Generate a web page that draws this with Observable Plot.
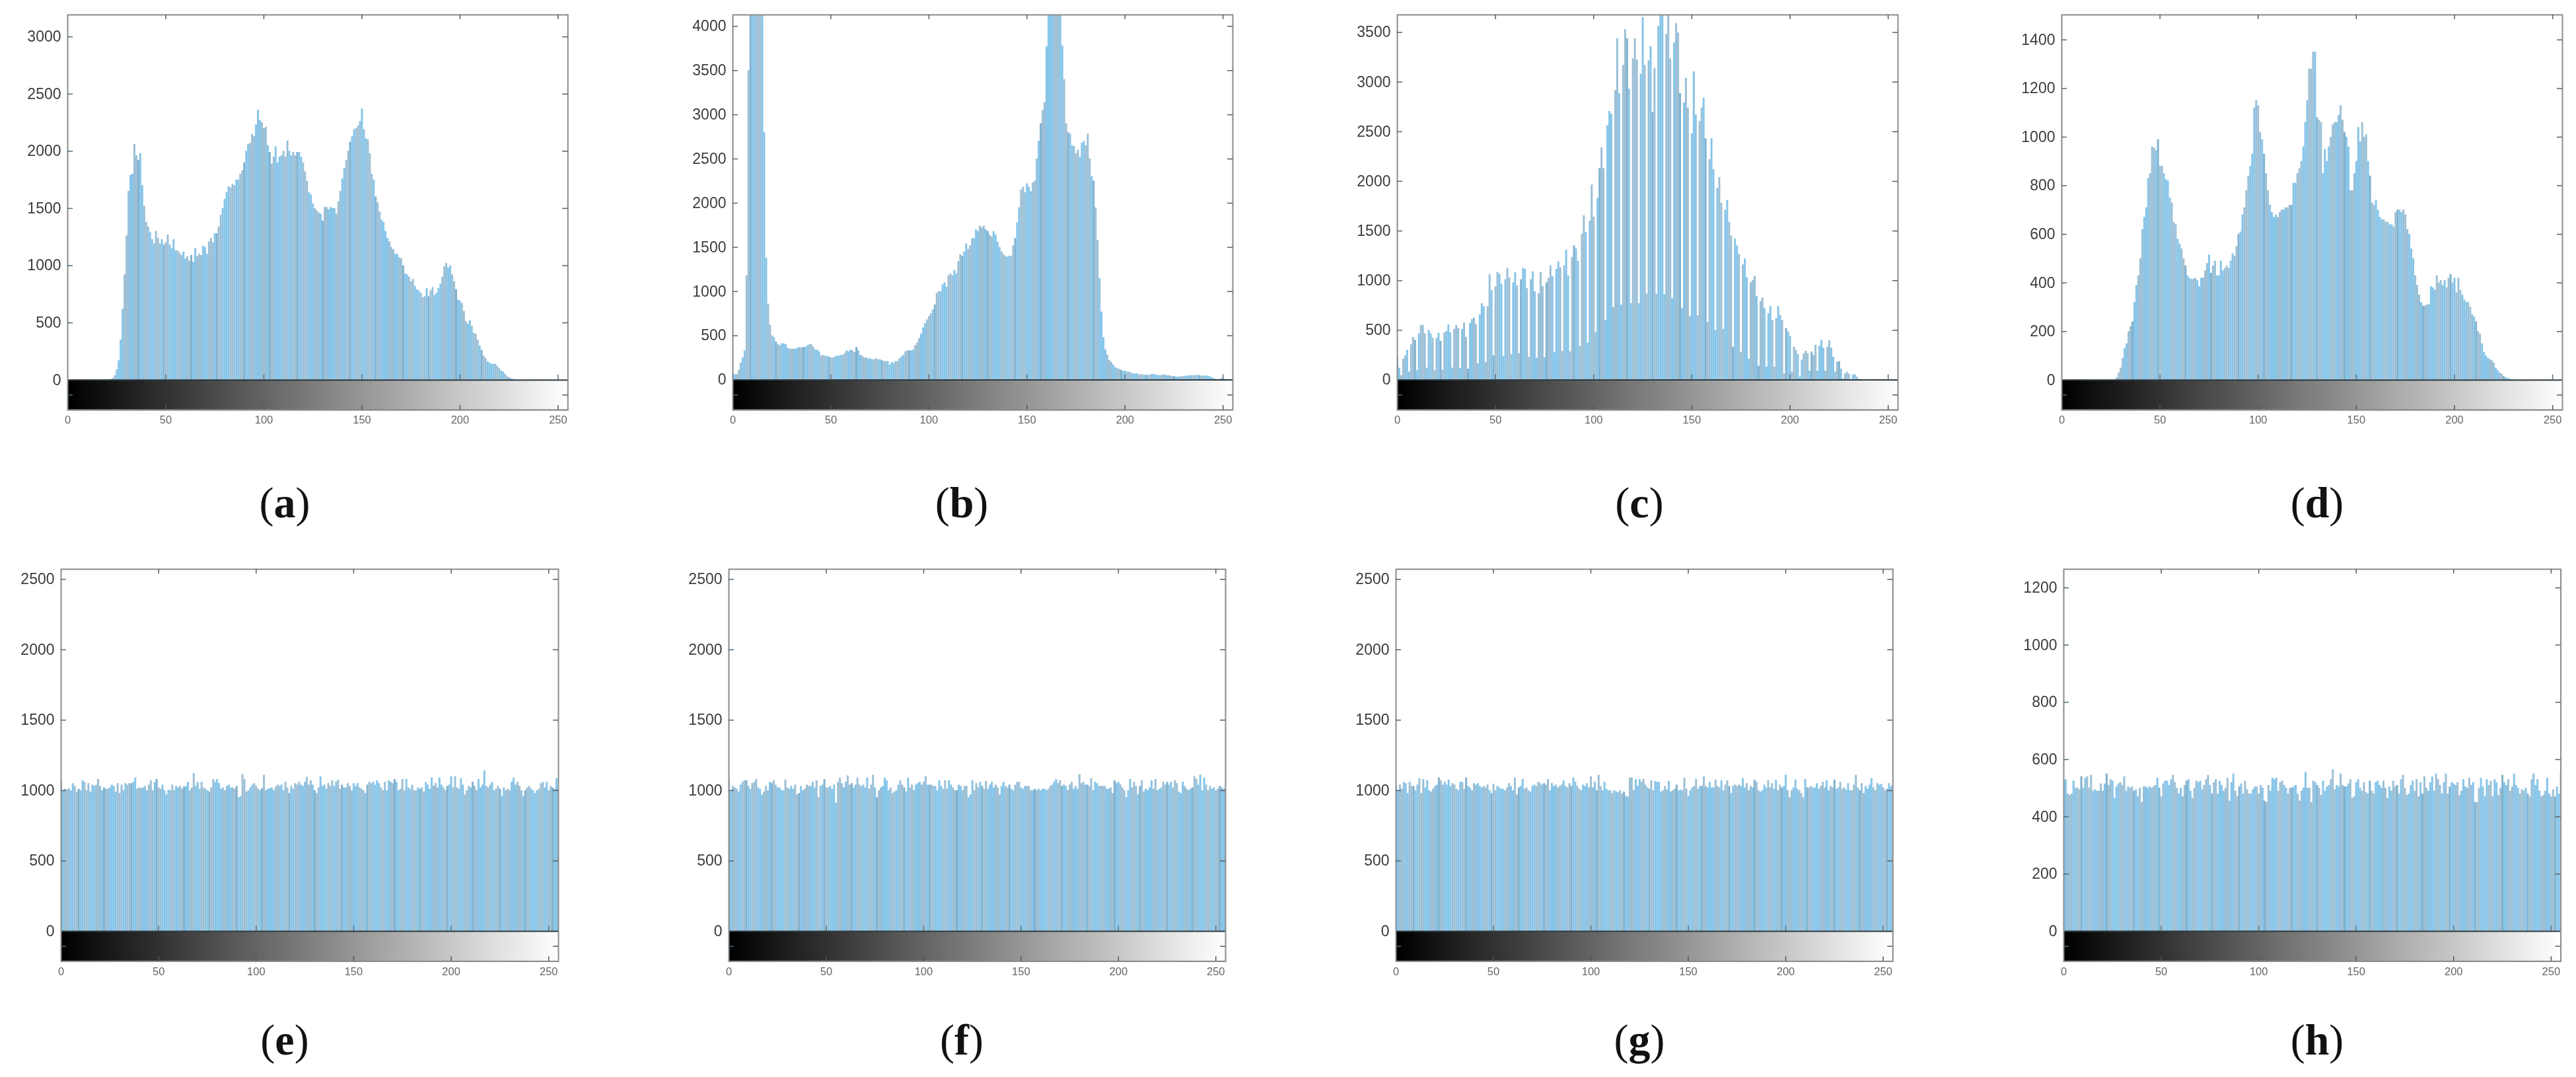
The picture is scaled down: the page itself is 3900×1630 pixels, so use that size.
<!DOCTYPE html>
<html>
<head>
<meta charset="utf-8">
<script src="https://cdn.jsdelivr.net/npm/d3@7"></script>
<script src="https://cdn.jsdelivr.net/npm/@observablehq/plot@0.6"></script>
<style>
html,body{margin:0;padding:0;background:#fff;width:3900px;height:1630px;overflow:hidden;position:relative}
svg{filter:blur(0.65px)}
.lab{position:absolute;transform:translateX(-50%);font-family:"Liberation Serif",serif;font-size:66px;line-height:66px;color:#111;white-space:nowrap;filter:blur(0.4px)}
</style>
</head>
<body>
<script>
const grayLevels = d3.range(256);
const xTicks = [0,50,100,150,200,250];

const histA = [
0,0,0,0,0,0,0,0,0,0,0,0,0,0,0,0,
0,0,0,0,0,0,5,15,40,90,170,350,620,920,1260,1650,
1790,1800,2060,1960,1920,1980,1700,1520,1380,1340,1290,1230,1190,1300,1240,1190,
1230,1180,1200,1270,1180,1150,1230,1130,1130,1110,1090,1120,1060,1080,1040,1090,
1030,1150,1080,1100,1090,1170,1160,1100,1210,1240,1200,1280,1280,1340,1440,1500,
1580,1640,1690,1680,1710,1700,1750,1750,1800,1830,1900,2000,2060,2070,2150,2130,
2230,2360,2270,2250,2200,2210,2050,1990,1890,1950,2040,1900,1950,1960,2000,1950,
2090,2000,1960,1990,1960,1990,1990,1950,1900,1820,1740,1640,1620,1540,1500,1480,
1460,1450,1390,1510,1510,1490,1510,1500,1500,1450,1560,1650,1760,1850,1920,2000,
2080,2130,2190,2200,2220,2260,2370,2190,2110,2100,1980,1800,1750,1600,1550,1470,
1400,1380,1300,1240,1210,1160,1140,1100,1100,1070,1060,1000,930,920,900,860,
880,820,790,780,760,720,730,800,730,780,810,740,760,800,840,900,
990,1020,980,1000,920,860,790,700,690,670,600,510,490,520,470,410,
400,350,300,260,210,190,160,150,140,140,140,120,100,80,70,50,
30,20,12,8,5,3,2,1,0,0,0,0,0,0,0,0,
0,0,0,0,0,0,0,0,0,0,0,0,0,0,0,0];

const histB = [
70,60,60,110,190,250,330,1180,3500,5000,7500,9200,9800,8000,5600,4200,
2800,1380,860,620,500,480,430,400,390,410,410,400,360,350,350,350,
350,360,370,360,370,370,390,400,400,370,340,340,320,270,280,270,
270,260,250,250,260,270,270,280,280,300,330,320,340,330,310,370,
330,280,270,250,250,240,240,230,230,240,230,230,220,210,210,210,
170,200,190,210,210,240,260,280,320,330,330,330,340,390,420,470,
520,590,640,680,720,750,790,850,980,1000,1000,1080,1100,1050,1180,1200,
1180,1240,1200,1340,1420,1400,1450,1540,1480,1520,1600,1600,1700,1680,1740,1720,
1740,1700,1680,1640,1620,1680,1640,1560,1500,1450,1420,1400,1390,1400,1400,1520,
1600,1780,1950,2150,2180,2120,2220,2180,2130,2230,2250,2500,2700,2900,3050,3140,
3770,4600,5200,4800,5000,5400,5000,4300,3780,3400,2900,2800,2780,2650,2640,2560,
2600,2520,2680,2700,2650,2780,2500,2300,2250,1950,1580,1150,770,480,340,280,
220,200,170,140,130,120,110,100,100,90,90,80,70,70,70,60,
60,60,55,55,50,60,65,60,55,50,50,55,60,50,50,45,
40,40,35,35,35,40,40,45,45,50,50,50,50,55,50,45,
45,45,45,40,30,20,10,5,5,15,15,8,5,3,2,1];

const histC = [
245,120,44,210,245,300,80,355,430,400,95,465,550,550,465,120,
500,465,420,95,420,470,390,100,475,490,555,475,120,510,550,520,
118,510,575,430,110,570,610,625,560,165,655,770,740,175,740,1060,
900,245,940,1085,1065,965,240,1010,1125,1030,255,980,1080,950,265,1010,
1125,1115,920,228,1010,1090,890,220,870,1085,940,226,980,1025,1150,1040,
277,1115,1190,1130,288,1150,1310,1050,284,1235,1350,1320,1195,337,1470,1655,
1485,372,1600,1965,1640,477,1830,2130,2340,2130,600,2560,2706,2680,730,2915,
3437,2885,754,3170,3530,3437,2930,770,3235,3437,3225,770,3080,3650,3170,865,
3215,3360,2695,3140,865,3560,3800,3720,860,3480,3760,3235,820,3395,3590,3495,
2885,720,2790,3040,2740,640,2480,3105,2670,650,2606,2740,2840,2430,580,2220,
2430,2120,500,1930,2040,1780,510,1710,1810,1590,1450,330,1420,1350,1265,280,
1160,1220,1030,210,980,1000,1045,840,140,790,825,720,130,670,740,600,
130,620,740,650,600,60,520,485,440,80,330,300,260,30,200,265,
290,265,90,280,250,350,90,340,400,320,90,330,395,320,230,80,
180,185,110,10,60,78,60,5,50,55,30,8,5,4,3,2,
2,1,1,1,0,0,0,0,0,0,0,0,0,0,0,0];

const histD = [
0,0,0,0,0,0,0,0,0,0,0,0,0,0,0,0,
0,0,0,0,0,0,0,0,0,0,0,2,10,30,50,90,
130,150,200,220,240,320,390,430,500,620,670,710,830,850,960,955,
945,990,880,880,850,825,820,750,730,650,640,580,560,540,500,470,
430,420,415,415,420,410,385,420,420,450,480,515,440,470,490,430,
430,490,450,460,470,460,490,520,510,550,600,610,680,710,780,840,
880,930,1120,1150,1130,1020,990,930,850,780,720,690,670,680,670,690,
700,700,710,710,720,720,810,810,850,870,900,960,1060,1150,1280,1280,
1350,1350,1080,1070,1060,850,950,900,960,1000,1050,1060,1060,1090,1130,1070,
1020,1000,960,780,780,850,900,1040,980,1060,1000,1010,900,840,730,720,
740,700,670,660,660,650,650,640,640,630,690,700,700,690,700,680,
620,600,540,500,430,390,350,320,305,305,310,310,385,380,370,430,
400,410,390,410,380,420,435,400,420,360,420,370,350,330,320,320,
300,270,260,240,200,190,150,115,100,90,85,80,70,50,40,30,
25,15,10,8,5,3,2,0,0,0,0,0,0,0,0,0,
0,0,0,0,0,0,0,0,0,0,0,0,0,0,0,0];

const histE = [
1060,1000,1010,1005,1015,1000,1050,1030,990,1010,1000,1070,1060,1000,1050,990,
1040,1030,1040,1080,1030,1000,1020,1010,1010,1020,1040,1030,990,1050,980,1040,
1000,1050,1040,1050,1050,1060,1090,1010,1020,1015,1020,1030,1000,1040,1070,1000,
1060,1080,1020,1010,1040,1000,970,1005,1000,1040,1000,1030,1020,1030,1010,1025,
1030,1060,1000,1020,1120,1030,1060,1010,1060,1020,1010,1000,990,1020,1080,1060,
1080,1050,1010,1020,1000,1030,1040,1020,1020,1010,1030,950,960,1115,1080,990,
1000,1020,1040,1050,1030,1010,1000,1015,1110,1000,1010,1015,1020,1000,1025,1040,
1030,1040,1000,1060,1020,980,1030,1010,1050,1040,1060,1040,1030,1060,1095,1040,
1070,1040,1000,980,1020,1100,1030,1040,1010,1050,1030,1070,1030,1060,1075,1010,
1040,1020,1020,1050,1030,1000,1050,1030,1050,1020,1010,1000,980,1040,1060,1050,
1060,1040,1070,1050,1020,1000,1060,1000,1070,1060,1050,1080,1060,1000,1010,1080,
1000,1080,1020,1010,1040,1000,1000,1020,1010,1020,990,1060,1040,1010,1090,1030,
1050,1020,1090,1040,1020,1000,1030,1040,1100,1020,1100,1020,1010,1085,1040,970,
1000,1030,1020,1060,1030,1000,1080,1020,1040,1140,1030,1020,1040,1060,1000,1010,
1030,1010,960,1020,1000,1010,1000,1060,1090,1040,1060,1030,1000,960,1000,1020,
1030,1010,1000,980,1000,1010,1050,1060,1020,1060,1000,1030,1020,1010,1085,1010];

const histF = [
1070,1000,1030,1020,1010,990,1040,1060,1070,1070,1030,1010,1050,1060,1080,1020,
1010,970,990,1030,1000,1060,1050,1070,1040,1020,1020,1000,1000,1075,1020,1010,
1030,1010,1040,970,980,1030,1000,1010,1040,1030,1030,1060,1020,1070,950,1030,
1040,1080,1020,1020,1030,1010,1040,910,1060,1090,1050,1020,1060,1105,1040,1050,
1020,1040,1090,1040,1030,1040,1020,1090,1010,1040,1110,1020,950,1000,1020,1030,
1090,1070,1000,1020,980,990,1000,1040,1070,1040,1020,990,1090,1020,1040,1000,
1040,1050,1060,1040,1060,1100,1040,1040,1040,1030,1030,1000,1070,1030,1010,1070,
1010,1070,1040,1020,1000,1000,1040,1030,1000,1030,1030,950,970,1070,1000,1050,
1020,1060,1030,1010,1065,1010,1040,1060,1020,1040,1020,970,1030,1060,1030,1020,
1040,1010,1000,1040,1060,1060,1020,1010,1030,1030,1030,1000,1000,1010,1000,1010,
1000,1010,1010,1000,1010,1030,1040,1060,1080,1050,1070,1030,1040,1030,1000,1040,
1060,1010,1030,1010,1115,1050,1060,1040,1040,1030,1085,1000,1060,1050,1030,1030,
1030,1030,1010,1010,1020,980,1070,1050,1060,1040,1020,1000,950,1000,1080,1020,
1060,1030,970,1030,1070,990,1010,1000,1020,1070,1010,1080,1000,1010,1020,1060,
1040,1060,1040,1060,1020,1070,1050,990,980,1060,1030,1010,1000,1010,1020,1100,
1080,1040,1110,1000,1090,1040,1000,1030,1010,1020,1000,1010,1030,1020,1010,1020];

const histG = [
1040,1000,1040,1010,1060,1050,980,1060,1030,1030,1000,1040,1085,980,1080,1020,
1070,1000,990,1010,1030,1040,1090,1070,1040,1060,1040,1075,1030,1050,1040,1010,
1000,1060,1060,1010,1090,1030,1020,1000,1050,1040,1050,1030,1020,1030,1020,1040,
1000,980,1045,1000,1030,1020,1010,1010,1000,1020,1050,1030,1000,1090,970,1020,
1030,1080,1010,1020,1000,990,1030,1040,1030,1060,1050,1040,1050,1040,1080,1000,
1050,1030,1040,1020,1030,1040,1070,1030,1020,1050,1030,1090,1060,1030,1010,1000,
1040,1030,1050,1020,1100,1020,1060,1000,1110,1030,1000,1060,1010,1000,1000,980,
1000,990,985,1000,975,990,960,955,1090,1090,1000,1080,1030,1080,1060,1080,
1040,1020,1010,1070,1000,1065,1060,1060,990,1000,1030,1005,1065,990,1000,1010,
1040,1000,1005,1000,1090,1010,960,1000,1020,1030,1080,1010,1030,1030,1100,1030,
1020,1060,1020,1020,1075,1030,1020,1070,1000,1040,1070,1030,980,1030,1040,1030,
1040,1030,1085,1020,1050,1000,1030,1020,1075,1060,1000,990,1000,1040,1020,1070,
1020,1050,1010,1075,1000,1040,1020,1030,1110,1000,950,1000,1020,1075,1010,1000,
980,950,1080,1020,1020,1030,1020,1020,1050,1010,1030,1060,1020,1070,1000,1030,
1020,1075,1010,1020,1060,1010,1020,1005,1050,1000,1000,1040,1110,1020,1000,1050,
980,1030,1010,1040,1085,1020,1000,1050,1040,1045,1020,1000,1010,1050,1030,1040];

const histH = [
525,530,480,475,480,525,500,500,495,540,500,535,540,500,545,490,
495,490,490,515,490,515,550,510,530,525,465,505,515,520,510,540,
490,505,500,505,490,495,470,500,450,505,505,500,505,500,505,510,
535,500,470,515,525,525,510,530,545,520,500,480,500,470,510,525,
530,490,465,500,525,520,525,495,510,530,545,510,480,520,530,480,
525,510,490,500,535,455,520,550,490,470,505,515,480,525,495,480,
480,495,505,505,480,510,500,455,450,510,490,535,530,535,490,520,
525,510,500,480,500,500,505,510,480,455,490,500,555,500,500,450,
525,520,510,500,475,525,490,505,510,530,565,495,510,505,550,510,
505,505,515,530,465,470,520,530,500,490,520,485,480,525,490,480,
520,525,510,500,525,500,465,505,490,525,505,510,480,530,545,500,
475,480,510,525,490,530,470,520,480,540,500,490,520,540,490,550,
530,510,480,520,550,480,505,520,515,510,520,475,490,530,505,500,
535,510,520,450,450,500,535,505,470,530,510,525,470,530,520,475,
500,545,520,510,530,490,505,550,510,500,480,495,490,500,480,470,
530,550,510,530,490,470,475,490,535,480,470,495,470,505,480,555];

const ticksY2500 = [0,500,1000,1500,2000,2500];
const panels = [
  {name:"a", hist:histA, left:101.5, right:858.8, top:22.4, bottom:620.4, yMax:3192, yMin:-262, yTicks:[0,500,1000,1500,2000,2500,3000], labelX:431, labelY:761},
  {name:"b", hist:histB, left:1108.5, right:1865.5, top:22.4, bottom:620.4, yMax:4130, yMin:-340, yTicks:[0,500,1000,1500,2000,2500,3000,3500,4000], labelX:1456, labelY:761},
  {name:"c", hist:histC, left:2115, right:2873, top:22.4, bottom:620.4, yMax:3677, yMin:-303, yTicks:[0,500,1000,1500,2000,2500,3000,3500], labelX:2482, labelY:761},
  {name:"d", hist:histD, left:3121, right:3879, top:22.4, bottom:620.4, yMax:1503, yMin:-123, yTicks:[0,200,400,600,800,1000,1200,1400], labelX:3508, labelY:761},
  {name:"e", hist:histE, left:92, right:845, top:860.6, bottom:1454, yMax:2572, yMin:-213, yTicks:ticksY2500, labelX:431, labelY:1574},
  {name:"f", hist:histF, left:1103, right:1855, top:860.6, bottom:1454, yMax:2572, yMin:-213, yTicks:ticksY2500, labelX:1456, labelY:1574},
  {name:"g", hist:histG, left:2112.7, right:2865, top:860.6, bottom:1454, yMax:2572, yMin:-213, yTicks:ticksY2500, labelX:2482, labelY:1574},
  {name:"h", hist:histH, left:3124, right:3876.6, top:860.6, bottom:1454, yMax:1265, yMin:-105, yTicks:[0,200,400,600,800,1000,1200], labelX:3508, labelY:1574}
];

// moiré of the original raster: bright and grey-blue bands with an occasional darker thin line
const barShades = [
  "#86c5ea","#88c5e8","#9cbfd5","#9dbfd4","#98c0d8","#86c5ea","#88c4e8","#9cbfd5","#9dbfd4","#7fb0cc","#8ac5e8",
  "#86c5ea","#9cbfd5","#9dbfd4","#9abfd6","#86c5ea","#8ac4e6","#88c5e8","#9cbfd5","#9dbfd4","#98c0d8","#86c5ea",
  "#80b2cf","#9cbfd5","#9bbfd6","#88c5e8","#86c5ea"];
const M = {l:70, r:20, t:6, b:40};

for (const p of panels) {
  const rows = p.hist.map((v,i)=>({bin:i, count:v}));
  const plotH = p.bottom - p.top, plotW = p.right - p.left;
  const uy = (p.yMax - p.yMin) / plotH;     // data units per pixel
  const ux = 255 / plotW;
  const stripMid = p.yMin / 2;
  const svg = Plot.plot({
    width: plotW + M.l + M.r,
    height: plotH + M.t + M.b,
    marginLeft: M.l, marginRight: M.r, marginTop: M.t, marginBottom: M.b,
    x: {domain:[0,255], axis:null, label:null},
    y: {domain:[p.yMin,p.yMax], axis:null, label:null},
    color: {type:"identity"},
    style: {position:"absolute", left:(p.left-M.l)+"px", top:(p.top-M.t)+"px", background:"transparent", overflow:"visible"},
    marks: [
      Plot.ruleX(rows, {x:"bin", y1:0, y2:"count", stroke:d=>barShades[d.bin % barShades.length], strokeWidth:3, clip:true, strokeLinecap:"butt"}),
      Plot.rect(grayLevels, {x1:b=>b, x2:b=>b+2, y1:0, y2:p.yMin, fill:b=>`rgb(${b},${b},${b})`, clip:true}),
      Plot.ruleY([0], {stroke:"#2e3a40", strokeWidth:2}),
      Plot.ruleY([p.yMin], {stroke:"#777", strokeWidth:1.5}),
      Plot.frame({stroke:"#8b8b8b", strokeWidth:2}),
      // inward ticks
      Plot.ruleX(xTicks.slice(1), {x:d=>d, y1:p.yMax, y2:p.yMax-7*uy, stroke:"#5c5c5c", strokeWidth:1.5}),
      Plot.ruleX(xTicks.slice(1), {x:d=>d, y1:0, y2:8*uy, stroke:"#5a6c78", strokeWidth:1.5}),
      Plot.ruleX(xTicks.slice(1), {x:d=>d, y1:p.yMin, y2:p.yMin+7*uy, stroke:"#555", strokeWidth:1.5}),
      Plot.ruleY([...p.yTicks.slice(1), stripMid], {y:d=>d, x1:255, x2:255-8*ux, stroke:"#5c5c5c", strokeWidth:1.5}),
      Plot.ruleY([...p.yTicks.slice(1), stripMid], {y:d=>d, x1:0, x2:8*ux, stroke:"#4f6a7c", strokeWidth:1.5}),
      // tick labels
      Plot.axisY({ticks:p.yTicks, anchor:"left", label:null, tickSize:0, tickPadding:10, fontSize:23, fill:"#3c3c3c", fontFamily:"Liberation Sans", tickFormat:d=>String(d)}),
      Plot.axisX({ticks:xTicks, anchor:"bottom", label:null, tickSize:0, tickPadding:9, fontSize:16.5, fill:"#666", fontFamily:"Liberation Sans", tickFormat:d=>String(d)})
    ]
  });
  document.body.appendChild(svg);
  const lab = document.createElement("div");
  lab.className = "lab";
  lab.style.left = p.labelX + "px";
  lab.style.top = (p.labelY - 33) + "px";
  lab.innerHTML = `(<b>${p.name}</b>)`;
  document.body.appendChild(lab);
}
</script>
</body>
</html>
